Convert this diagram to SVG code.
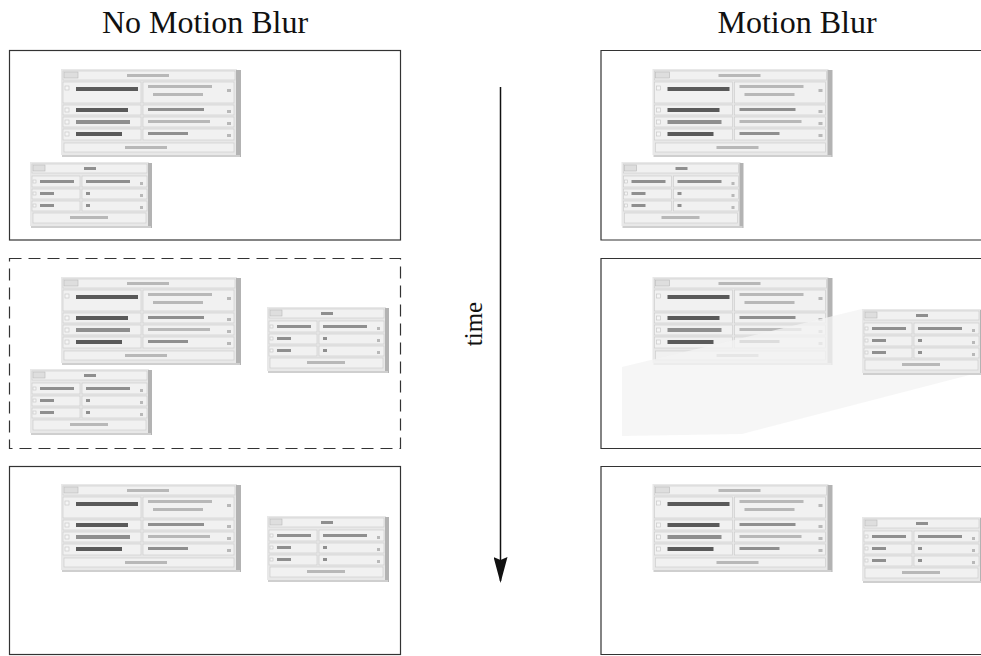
<svg xmlns="http://www.w3.org/2000/svg" xmlns:xlink="http://www.w3.org/1999/xlink" width="981" height="656" viewBox="0 0 981 656">
<style>
.title{font-family:"Liberation Serif","Times New Roman",serif;font-size:32px;fill:#111;text-anchor:middle}
.time{font-family:"Liberation Serif","Times New Roman",serif;font-size:25px;fill:#111;text-anchor:middle}
.panel{fill:#fff;stroke:#333;stroke-width:1.2}
.dashed{fill:#fff;stroke:#333;stroke-width:1.2;stroke-dasharray:12 7}
.edge{fill:none;stroke:#333;stroke-width:1.2}
.body{fill:#e8e8e8}
.shR{fill:#b3b3b3}
.shB{fill:#cfcfcf}
.cell{fill:#f1f1f1;stroke:#cdcdcd;stroke-width:0.7}
.btn{fill:#dedede;stroke:#b8b8b8;stroke-width:0.6}
.chk{fill:#f6f6f6;stroke:#c4c4c4;stroke-width:0.6}
.tk{fill:#5a5a5a}
.tm{fill:#8f8f8f}
.tl{fill:#b8b8b8}
.conn{stroke:#111;stroke-width:1.5;fill:none}
</style>
<defs>
<filter id="soft" x="-5%" y="-5%" width="110%" height="110%"><feGaussianBlur stdDeviation="0.4"/></filter>
<marker id="arr" viewBox="0 0 26 14" refX="24" refY="7" markerWidth="26" markerHeight="14" markerUnits="userSpaceOnUse" orient="auto">
<path d="M0,0 L26,7 L0,14 L3,7 Z" fill="#111"/>
</marker>
<g id="bigwin" filter="url(#soft)">
<rect class="body" x="0" y="0" width="176" height="86"/>
<rect class="shR" x="175" y="1" width="5" height="87"/>
<rect class="shB" x="1" y="86" width="178" height="2"/>
<rect class="cell" x="2" y="2" width="172" height="9"/>
<rect class="btn" x="3" y="3" width="14" height="6"/>
<rect class="tl" x="66" y="5" width="42" height="3"/>
<rect class="cell" x="2" y="13" width="78" height="21"/>
<rect class="cell" x="82" y="13" width="91" height="21"/>
<rect class="chk" x="4" y="17" width="4" height="4"/>
<rect class="tk" x="15" y="18" width="62" height="4"/>
<rect class="tl" x="87" y="16" width="64" height="3"/>
<rect class="tl" x="92" y="24" width="50" height="3"/>
<rect class="tl" x="166" y="20" width="4" height="3"/>
<rect class="cell" x="2" y="36" width="78" height="10"/>
<rect class="cell" x="82" y="36" width="91" height="10"/>
<rect class="chk" x="4" y="39" width="4" height="4"/>
<rect class="tk" x="15" y="39" width="52" height="4"/>
<rect class="tm" x="87" y="39" width="56" height="3"/>
<rect class="tl" x="166" y="41" width="4" height="3"/>
<rect class="cell" x="2" y="48" width="78" height="10"/>
<rect class="cell" x="82" y="48" width="91" height="10"/>
<rect class="chk" x="4" y="51" width="4" height="4"/>
<rect class="tm" x="15" y="51" width="54" height="4"/>
<rect class="tl" x="87" y="51" width="62" height="3"/>
<rect class="tl" x="166" y="53" width="4" height="3"/>
<rect class="cell" x="2" y="60" width="78" height="11"/>
<rect class="cell" x="82" y="60" width="91" height="11"/>
<rect class="chk" x="4" y="63" width="4" height="4"/>
<rect class="tk" x="15" y="63" width="46" height="4"/>
<rect class="tm" x="87" y="63" width="40" height="3"/>
<rect class="tl" x="166" y="65" width="4" height="3"/>
<rect class="cell" x="3" y="74" width="170" height="9"/>
<rect class="tl" x="64" y="77" width="42" height="3"/>
</g>
<g id="smallwin" filter="url(#soft)">
<rect class="body" x="0" y="0" width="119" height="64"/>
<rect class="shR" x="118" y="1" width="4" height="65"/>
<rect class="shB" x="1" y="64" width="120" height="2"/>
<rect class="cell" x="2" y="2" width="115" height="9"/>
<rect class="btn" x="3" y="3" width="12" height="6"/>
<rect class="tm" x="54" y="5" width="12" height="3"/>
<rect class="cell" x="2" y="14" width="48" height="11"/>
<rect class="cell" x="52" y="14" width="65" height="11"/>
<rect class="chk" x="3" y="18" width="3" height="3"/>
<rect class="tm" x="10" y="18" width="34" height="3"/>
<rect class="tm" x="56" y="18" width="44" height="3"/>
<rect class="tl" x="110" y="20" width="3" height="3"/>
<rect class="cell" x="2" y="27" width="48" height="10"/>
<rect class="cell" x="52" y="27" width="65" height="10"/>
<rect class="chk" x="3" y="30" width="3" height="3"/>
<rect class="tm" x="10" y="30" width="14" height="3"/>
<rect class="tm" x="56" y="30" width="4" height="3"/>
<rect class="tl" x="110" y="32" width="3" height="3"/>
<rect class="cell" x="2" y="39" width="48" height="10"/>
<rect class="cell" x="52" y="39" width="65" height="10"/>
<rect class="chk" x="3" y="42" width="3" height="3"/>
<rect class="tm" x="10" y="42" width="14" height="3"/>
<rect class="tm" x="56" y="42" width="4" height="3"/>
<rect class="tl" x="110" y="44" width="3" height="3"/>
<rect class="cell" x="3" y="51" width="113" height="10"/>
<rect class="tl" x="40" y="54" width="38" height="3"/>
</g>
</defs>

<text class="title" x="205" y="33">No Motion Blur</text>
<text class="title" x="797" y="33">Motion Blur</text>

<g id="panel-nb-1">
<rect class="panel" x="9.5" y="50.5" width="391" height="189.5"/>
<use id="nb1-big" xlink:href="#bigwin" transform="translate(61,69)"/>
<use id="nb1-small" xlink:href="#smallwin" transform="translate(30,162)"/>
</g>

<g id="panel-nb-2">
<rect class="dashed" x="9.5" y="258.5" width="391" height="190"/>
<use id="nb2-big" xlink:href="#bigwin" transform="translate(61,277)"/>
<use id="nb2-small-old" xlink:href="#smallwin" transform="translate(30,369)"/>
<use id="nb2-small-new" xlink:href="#smallwin" transform="translate(267,307)"/>
</g>

<g id="panel-nb-3">
<rect class="panel" x="9.5" y="466.5" width="391" height="188"/>
<use id="nb3-big" xlink:href="#bigwin" transform="translate(61,484)"/>
<use id="nb3-small" xlink:href="#smallwin" transform="translate(267,516)"/>
</g>

<g id="panel-mb-1">
<rect x="601" y="50.5" width="380" height="189.5" fill="#fff"/>
<path class="edge" d="M981,50.5 H601 V240 H981"/>
<use id="mb1-big" xlink:href="#bigwin" transform="translate(652.5,69)"/>
<use id="mb1-small" xlink:href="#smallwin" transform="translate(621.5,162)"/>
</g>

<g id="panel-mb-2">
<rect x="601" y="258.5" width="380" height="190" fill="#fff"/>
<path class="edge" d="M981,258.5 H601 V448.5 H981"/>
<use id="mb2-big" xlink:href="#bigwin" transform="translate(652.5,277)"/>
<polygon id="mb2-streak" points="622,367 862,309 981,309 981,372 742,434 622,436" fill="#f3f3f3" fill-opacity="0.78"/>
<use id="mb2-small" xlink:href="#smallwin" transform="translate(862,309)"/>
</g>

<g id="panel-mb-3">
<rect x="601" y="466.5" width="380" height="188" fill="#fff"/>
<path class="edge" d="M981,466.5 H601 V654.5 H981"/>
<use id="mb3-big" xlink:href="#bigwin" transform="translate(652.5,484)"/>
<use id="mb3-small" xlink:href="#smallwin" transform="translate(862,517)"/>
</g>

<g id="connectors">
<line class="conn" x1="500.5" y1="87" x2="500.5" y2="581" marker-end="url(#arr)"/>
</g>
<text class="time" transform="translate(482,324) rotate(-90)" x="0" y="0">time</text>
</svg>
